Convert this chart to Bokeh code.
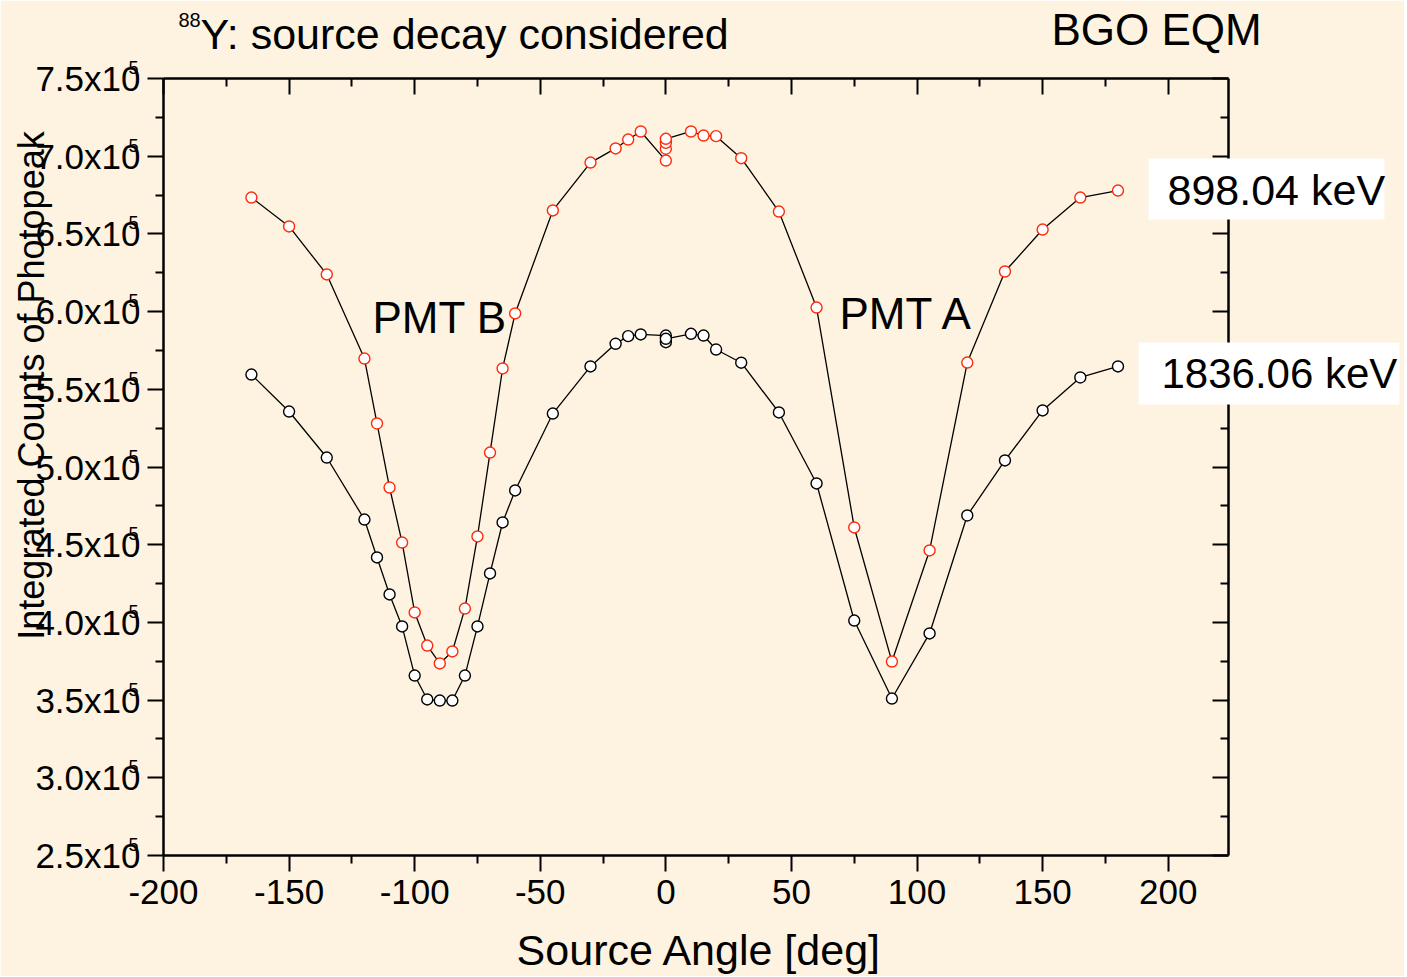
import numpy as np
from bokeh.plotting import figure
from bokeh.models import Range1d, LinearAxis, FixedTicker, Label
from bokeh.embed import file_html
from bokeh.resources import INLINE

# ---------------- data ----------------
angle_898 = [-165, -150, -135, -120, -115, -110, -105, -100, -95, -90, -85, -80, -75, -70,
             -65, -60, -45, -30, -20, -15, -10, 0, 0, 0, 0, 10, 15, 20, 30, 45, 60, 75,
             90, 105, 120, 135, 150, 165, 180]
counts_898_e5 = [6.734, 6.548, 6.239, 5.698, 5.280, 4.868, 4.514, 4.064, 3.851, 3.736,
                 3.813, 4.089, 4.553, 5.093, 5.634, 5.988, 6.651, 6.959, 7.050, 7.107,
                 7.159, 6.972, 7.048, 7.086, 7.112, 7.159, 7.133, 7.129, 6.987, 6.644,
                 6.026, 4.611, 3.748, 4.463, 5.672, 6.258, 6.528, 6.734, 6.779]

angle_1836 = [-165, -150, -135, -120, -115, -110, -105, -100, -95, -90, -85, -80, -75, -70,
              -65, -60, -45, -30, -20, -15, -10, 0, 0, 0, 10, 15, 20, 30, 45, 60, 75,
              90, 105, 120, 135, 150, 165, 180]
counts_1836_e5 = [5.595, 5.357, 5.061, 4.662, 4.418, 4.180, 3.974, 3.658, 3.504, 3.497,
                  3.497, 3.658, 3.974, 4.315, 4.643, 4.849, 5.344, 5.647, 5.793, 5.842,
                  5.853, 5.846, 5.803, 5.825, 5.857, 5.846, 5.756, 5.671, 5.351, 4.894,
                  4.012, 3.510, 3.929, 4.688, 5.042, 5.364, 5.576, 5.647]

x_major = [-200, -150, -100, -50, 0, 50, 100, 150, 200]
x_minor = [-175, -125, -75, -25, 25, 75, 125, 175]
x_tick_text = {v: str(v) for v in x_major}
y_major = [250000, 300000, 350000, 400000, 450000, 500000, 550000, 600000, 650000, 700000, 750000]
y_minor = [275000, 325000, 375000, 425000, 475000, 525000, 575000, 625000, 675000, 725000]
y_tick_text = {v: f"{v / 1e5:.1f}x10" for v in y_major}
y_tick_exponent = "5"

counts_898 = np.array(counts_898_e5) * 1e5
counts_1836 = np.array(counts_1836_e5) * 1e5

# ---------------- style ----------------
BG = "#fdf3e0"
FONT = "Liberation Sans"
RED = "#ff2a0a"

W, H = 1404, 976
FL, FR, FT, FB = 163, 1228, 78, 855   # frame edges on the canvas
YMIN, YMAX = 250000, 750000
p = figure(width=W, height=H, output_backend="svg", toolbar_location=None,
           x_range=Range1d(-200, 224), y_range=Range1d(YMIN, YMAX),
           min_border_left=FL, min_border_right=W - FR, min_border_top=FT,
           min_border_bottom=H - FB,
           background_fill_color=BG, border_fill_color=BG, outline_line_color=None)
p.grid.visible = False

xt = FixedTicker(ticks=x_major, minor_ticks=x_minor)
yt = FixedTicker(ticks=y_major, minor_ticks=y_minor)

def style_axis(ax, inward):
    ax.axis_line_width = 2.5
    ax.axis_line_color = "black"
    ax.major_tick_line_width = 2
    ax.minor_tick_line_width = 2
    ax.major_tick_line_color = "black"
    ax.minor_tick_line_color = "black"
    if inward:
        ax.major_tick_in = 16
        ax.major_tick_out = 0
        ax.minor_tick_in = 8
        ax.minor_tick_out = 0
        ax.major_label_text_font_size = "0px"
        ax.major_label_text_alpha = 0
    else:
        ax.major_tick_in = 0
        ax.major_tick_out = 16
        ax.minor_tick_in = 0
        ax.minor_tick_out = 8
        ax.major_label_text_font = FONT
        ax.major_label_text_font_size = "35px"
        ax.major_label_text_color = "black"

xa = p.xaxis[0]
xa.ticker = xt
style_axis(xa, False)
xa.major_label_standoff = 8
xa.major_label_overrides = x_tick_text

ya = p.yaxis[0]
ya.ticker = yt
style_axis(ya, False)
ya.major_label_standoff = 7
ya.major_label_overrides = y_tick_text

top = LinearAxis(ticker=xt)
style_axis(top, True)
p.add_layout(top, "above")
right = LinearAxis(ticker=yt)
style_axis(right, True)
p.add_layout(right, "right")

# ---------------- series ----------------
p.line(angle_898, counts_898, line_color="black", line_width=1.3)
p.scatter(angle_898, counts_898, marker="circle", size=11, fill_color="white",
          line_color=RED, line_width=1.4)
p.line(angle_1836, counts_1836, line_color="black", line_width=1.3)
p.scatter(angle_1836, counts_1836, marker="circle", size=11, fill_color="white",
          line_color="black", line_width=1.4)

# ---------------- transparent text layer over the whole canvas ----------------
q = figure(width=W, height=H, output_backend="svg", toolbar_location=None,
           x_range=Range1d(0, W), y_range=Range1d(H, 0), min_border=0,
           x_axis_location=None, y_axis_location=None,
           background_fill_color=None, border_fill_color=None, outline_line_color=None)
q.grid.visible = False
q.styles = {"margin-top": f"-{H}px"}

def lab(text, cx, cy, size, align="left", baseline="middle", angle=0.0):
    q.add_layout(Label(x=cx, y=cy, x_units="canvas", y_units="canvas", text=text,
                       text_font=FONT, text_font_size=f"{size}px", text_color="black",
                       text_align=align, text_baseline=baseline, angle=angle))

# superscript exponents of the y tick labels
for v in y_major:
    tick_cy = FB - (v - YMIN) / (YMAX - YMIN) * (FB - FT)
    lab(y_tick_exponent, 133, tick_cy - 11, 18, align="center")

lab("88", 178, 19, 20)
lab("Y: source decay considered", 200, 33, 43)
lab("BGO EQM", 1051, 29, 44)
lab("PMT B", 372, 317, 44)
lab("PMT A", 839, 313, 44)

# white boxes behind the energy labels
q.quad(left=[1148, 1138], right=[1384, 1399], top=[158, 342], bottom=[219, 404],
       fill_color="white", line_color=None)
lab("898.04 keV", 1167, 189, 43)
lab("1836.06 keV", 1161, 373, 42)

lab("Source Angle [deg]", 699, 949, 43, align="center")
lab("Integrated Counts of Photopeak", 31, 385, 36, align="center", angle=np.pi / 2)

open("out.html", "w").write(file_html([p, q], INLINE))
